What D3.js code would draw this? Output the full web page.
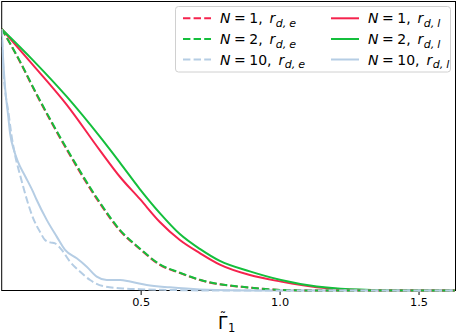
<!DOCTYPE html>
<html>
<head>
<meta charset="utf-8">
<script src="https://cdn.jsdelivr.net/npm/d3@7"></script>
<style>
  html, body { margin: 0; padding: 0; background: #fff; }
  svg { display: block; font-family: "DejaVu Sans", sans-serif; }
</style>
</head>
<body>
<div id="chart"></div>
<script>
const gammaSolid = [0, 0.113, 0.235, 0.354, 0.426, 0.497, 0.569, 0.641, 0.713, 0.785, 0.893, 1.005, 1.134, 1.253, 1.433, 1.63];
const rdlN1 = [1.0, 0.862, 0.709, 0.535, 0.434, 0.350, 0.262, 0.193, 0.143, 0.099, 0.059, 0.034, 0.012, 0.003, 0.0005, 0];
const rdlN2 = [1.0, 0.880, 0.740, 0.587, 0.488, 0.388, 0.296, 0.216, 0.159, 0.113, 0.073, 0.040, 0.015, 0.005, 0.001, 0];

const gammaDashed = [0, 0.066, 0.120, 0.235, 0.350, 0.426, 0.497, 0.569, 0.641, 0.713, 0.893, 1.005, 1.145, 1.63];
const rdeN1 = [1.0, 0.874, 0.760, 0.537, 0.338, 0.228, 0.159, 0.098, 0.067, 0.040, 0.011, 0.002, 0, 0];
const rdeN2 = [1.0, 0.876, 0.763, 0.541, 0.342, 0.231, 0.161, 0.100, 0.068, 0.041, 0.011, 0.002, 0, 0];

// N = 10 curves are much noisier, read on their own grids
const gammaN10l = [0, 0.004, 0.012, 0.023, 0.030, 0.044, 0.059, 0.084, 0.113, 0.126, 0.162, 0.198, 0.228, 0.270, 0.306, 0.342, 0.378, 0.426, 0.462, 0.522, 0.605, 0.713, 0.893, 1.63];
const rdlN10 = [1.0, 0.908, 0.778, 0.671, 0.602, 0.537, 0.491, 0.438, 0.377, 0.346, 0.270, 0.206, 0.155, 0.123, 0.091, 0.053, 0.040, 0.040, 0.034, 0.021, 0.012, 0.004, 0, 0];

const gammaN10e = [0, 0.003, 0.006, 0.012, 0.023, 0.035, 0.048, 0.066, 0.091, 0.113, 0.138, 0.156, 0.174, 0.192, 0.216, 0.246, 0.282, 0.318, 0.364, 0.436, 0.497, 0.605, 0.785, 1.63];
const rdeN10 = [1.0, 0.920, 0.843, 0.767, 0.690, 0.595, 0.518, 0.442, 0.346, 0.277, 0.224, 0.193, 0.184, 0.180, 0.155, 0.110, 0.072, 0.040, 0.017, 0.008, 0.005, 0.002, 0, 0];

const xTicks = [0.5, 1.0, 1.5];

const red = "#f5234d", green = "#14bf3c", blue = "#b5cde4";
const dash = "7.4,3.2";

const series = [
  { xs: gammaDashed, ys: rdeN1, color: red, dashed: true, n: "1", sub: ["d,", "e"] },
  { xs: gammaDashed, ys: rdeN2, color: green, dashed: true, n: "2", sub: ["d,", "e"] },
  { xs: gammaN10e, ys: rdeN10, color: blue, dashed: true, n: "10", sub: ["d,", "e"] },
  { xs: gammaSolid, ys: rdlN1, color: red, dashed: false, n: "1", sub: ["d,", "l"] },
  { xs: gammaSolid, ys: rdlN2, color: green, dashed: false, n: "2", sub: ["d,", "l"] },
  { xs: gammaN10l, ys: rdlN10, color: blue, dashed: false, n: "10", sub: ["d,", "l"] }
];

const width = 457, height = 333;
const plot = { left: 1.7, right: 455.5, top: 1.5, bottom: 290.5 };

const svg = d3.select("#chart").append("svg")
  .attr("width", width)
  .attr("height", height);

const x = d3.scaleLinear().domain([0, 1.633]).range([plot.left, plot.right]);
const y = d3.scaleLinear().domain([0, 1.105]).range([plot.bottom, plot.top]);

svg.append("clipPath").attr("id", "clip")
  .append("rect")
  .attr("x", plot.left).attr("y", plot.top)
  .attr("width", plot.right - plot.left).attr("height", plot.bottom - plot.top + 2);

// x axis, ticks only below
const xAxis = svg.append("g")
  .attr("transform", `translate(0,${plot.bottom})`)
  .call(d3.axisBottom(x).tickValues(xTicks).tickFormat(d3.format(".1f")).tickSize(4.5).tickPadding(3));
xAxis.select(".domain").remove();
xAxis.selectAll("text").attr("font-size", 11.3).attr("font-family", "DejaVu Sans").attr("fill", "#000");
xAxis.selectAll("line").attr("stroke", "#000").attr("stroke-width", 1);

// frame
svg.append("rect")
  .attr("x", plot.left).attr("y", plot.top)
  .attr("width", plot.right - plot.left).attr("height", plot.bottom - plot.top)
  .attr("fill", "none").attr("stroke", "#000").attr("stroke-width", 1);

const line = d3.line()
  .x(d => x(d[0]))
  .y(d => y(d[1]))
  .curve(d3.curveMonotoneX);

// solid lines underneath, dashed on top
const drawOrder = [3, 4, 5, 0, 1, 2];
const lines = svg.append("g").attr("clip-path", "url(#clip)");
drawOrder.forEach(i => {
  const s = series[i];
  lines.append("path")
    .datum(s.xs.map((v, j) => [v, s.ys[j]]))
    .attr("d", line)
    .attr("fill", "none")
    .attr("stroke", s.color)
    .attr("stroke-width", 2)
    .attr("stroke-dasharray", s.dashed ? dash : null);
});

// x label: Gamma with tilde, subscript 1
const xl = svg.append("text")
  .attr("x", 218)
  .attr("y", 329)
  .attr("font-size", 17)
  .attr("fill", "#000");
xl.append("tspan").text("\u0393");
xl.append("tspan").attr("font-size", 11.5).attr("dx", 0.5).attr("dy", 2.5).text("1");
svg.append("text")
  .attr("x", 223)
  .attr("y", 320.5)
  .attr("text-anchor", "middle")
  .attr("font-size", 13)
  .attr("fill", "#000")
  .text("\u02DC");

// legend, two columns of three
const legend = svg.append("g");
legend.append("rect")
  .attr("x", 175.5).attr("y", 6.5)
  .attr("width", 275).attr("height", 65.5)
  .attr("rx", 3)
  .attr("fill", "#fff").attr("fill-opacity", 0.8)
  .attr("stroke", "#d0d0d0").attr("stroke-width", 1);

const colX = [183, 331];
const rowY = [18.3, 39, 59.5];
series.forEach((s, i) => {
  const cx = colX[Math.floor(i / 3)];
  const cy = rowY[i % 3];
  legend.append("line")
    .attr("x1", cx).attr("x2", cx + 28)
    .attr("y1", cy).attr("y2", cy)
    .attr("stroke", s.color).attr("stroke-width", 2)
    .attr("stroke-dasharray", s.dashed ? dash : null);

  const t = legend.append("text")
    .attr("x", cx + 37)
    .attr("y", cy + 5)
    .attr("font-size", 14)
    .attr("fill", "#000");
  t.append("tspan").attr("font-style", "italic").text("N");
  t.append("tspan").attr("dx", 3.5).text("=");
  t.append("tspan").attr("dx", 3.5).text(s.n + ",");
  t.append("tspan").attr("dx", 7).attr("font-style", "italic").text("r");
  t.append("tspan").attr("font-style", "italic").attr("font-size", 11).attr("dx", 0.5).attr("dy", 3.5).text(s.sub[0]);
  t.append("tspan").attr("font-style", "italic").attr("font-size", 11).attr("dx", 3).text(s.sub[1]);
});
</script>
</body>
</html>
